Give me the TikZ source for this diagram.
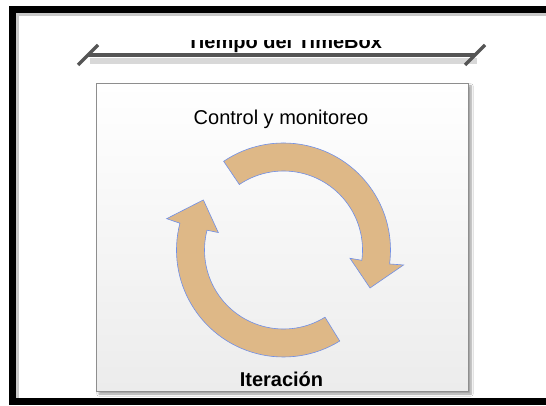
\documentclass[tikz,border=0pt]{standalone}
\usepackage{fontspec}
\setmainfont{Liberation Sans}
\usetikzlibrary{shadows.blur}

\definecolor{arrowfill}{HTML}{DEB887}
\definecolor{arrowline}{HTML}{6F8FE8}
\definecolor{tickgray}{HTML}{555555}
\definecolor{boxline}{HTML}{8E8E8E}
\definecolor{boxbottom}{HTML}{ECECEC}

\tikzset{
  cyclearrow/.style={fill=arrowfill, draw=arrowline, line width=0.6pt, line join=miter},
  timeline/.style={draw=tickgray, line width=3.5pt},
  label/.style={font=\fontsize{20}{24}\selectfont, inner sep=0pt, anchor=base}
}

\begin{document}
\begin{tikzpicture}[x=1pt, y=1pt]
            \useasboundingbox (0,0) rectangle (546,405);
            \fill[white] (0,0) rectangle (546,405);

            % outer frame
            \draw[black!35, line width=4pt, opacity=0.6] (17,0) -- (17,391) -- (546,391);
            \draw[black, line width=7pt] (12,3.5) rectangle (556,395);

            % time box
            \node[draw=boxline, line width=0.8pt, top color=white, bottom color=boxbottom,
                  minimum width=372pt, minimum height=308pt, inner sep=0pt,
                  blur shadow={shadow xshift=3pt, shadow yshift=-3pt, shadow blur steps=6}]
                  (box) at (282,168) {};

            % time line
            \coordinate (tl) at (88,350);
            \coordinate (tr) at (475,350);
            \draw[black!30, line width=6pt, opacity=0.5] ([shift={(2,-6)}]tl) -- ([shift={(2,-6)}]tr);
            \draw[timeline] (tl) -- (tr);
            \draw[timeline] ([shift={(-10,-10)}]tl) -- ([shift={(10,10)}]tl);
            \draw[timeline] ([shift={(-10,-10)}]tr) -- ([shift={(10,10)}]tr);

            \begin{scope}
              \clip (150,300) rectangle (420,364.3);
              \node[label, font=\fontsize{20}{24}\selectfont\bfseries] (title) at (284.5,356.3) {Tiempo del TimeBox};
            \end{scope}

            \node[label] (ctrl) at (281,280) {Control y monitoreo};
            \node[label, font=\fontsize{20}{24}\selectfont\bfseries] (iter) at (281.5,19) {Iteración};

            % cycle arrows
            \begin{scope}[shift={(283.5,155)}]
              \draw[cyclearrow] (124:107) arc[start angle=124, end angle=-7.5, radius=107]
                -- (-7.1:121) -- (-23.7:94.5) -- (-7.1:67) -- (-7.5:79)
                arc[start angle=-7.5, end angle=124, radius=79] -- cycle;
              \draw[cyclearrow] (-58.3:79) arc[start angle=-58.3, end angle=-194.5, radius=79]
                -- (165:67.5) -- (148:94.5) -- (165:121) -- (165.5:107)
                arc[start angle=165.5, end angle=301.7, radius=107] -- cycle;
            \end{scope}
        \end{tikzpicture}
\end{document}
